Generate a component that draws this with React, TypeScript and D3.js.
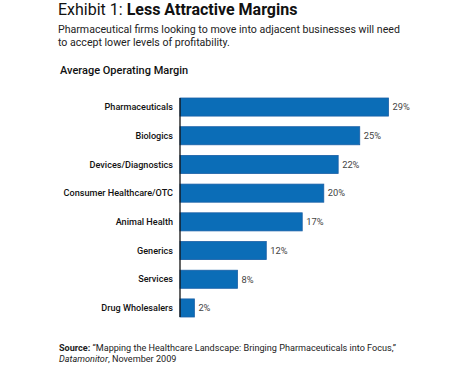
import * as d3 from "d3";
import { useEffect, useRef } from "react";

const categories = [
  "Pharmaceuticals",
  "Biologics",
  "Devices/Diagnostics",
  "Consumer Healthcare/OTC",
  "Animal Health",
  "Generics",
  "Services",
  "Drug Wholesalers",
];
const margins = [29, 25, 22, 20, 17, 12, 8, 2];

const FONT = "Roboto, 'Noto Sans', sans-serif";

export default function App() {
  const ref = useRef<SVGSVGElement>(null);

  useEffect(() => {
    const svg = d3.select(ref.current);
    svg.selectAll("*").remove();

    const x = d3.scaleLinear().domain([0, 29]).range([180, 388.5]);
    const y = d3.scaleBand().domain(categories).range([98, 317]).paddingInner(0.37).paddingOuter(0);

    // title
    const title = svg.append("text")
      .attr("x", 58).attr("y", 14.5)
      .style("font-family", FONT).style("font-size", "16px").style("fill", "#111");
    title.append("tspan").text("Exhibit 1: ");
    title.append("tspan").style("font-weight", "700").text("Less Attractive Margins");

    const sub = ["Pharmaceutical firms looking to move into adjacent businesses will need",
      "to accept lower levels of profitability."];
    svg.selectAll("text.sub")
      .data(sub)
      .join("text")
      .attr("class", "sub")
      .attr("x", 58).attr("y", (d, i) => 32.5 + i * 13)
      .style("font-family", FONT).style("font-size", "10.6px").style("fill", "#222")
      .text((d) => d);

    svg.append("text")
      .attr("x", 60).attr("y", 73.5)
      .style("font-family", FONT).style("font-size", "11px").style("font-weight", "500").style("fill", "#111")
      .text("Average Operating Margin");

    const data = categories.map((c, i) => ({ c, v: margins[i] }));

    svg.append("g")
      .selectAll("rect")
      .data(data)
      .join("rect")
      .attr("x", x(0))
      .attr("y", (d) => y(d.c)!)
      .attr("width", (d) => x(d.v) - x(0))
      .attr("height", y.bandwidth())
      .attr("fill", "#0b6db7")
      .attr("stroke", "#1a5fa6")
      .attr("stroke-width", 0.8);

    svg.append("g")
      .selectAll("text")
      .data(data)
      .join("text")
      .attr("x", 173)
      .attr("y", (d) => y(d.c)! + y.bandwidth() / 2)
      .attr("dy", "0.35em")
      .attr("text-anchor", "end")
      .style("font-family", FONT).style("font-size", "9.1px").style("font-weight", "500").style("fill", "#111")
      .text((d) => d.c);

    svg.append("g")
      .selectAll("text")
      .data(data)
      .join("text")
      .attr("x", (d) => x(d.v) + 4)
      .attr("y", (d) => y(d.c)! + y.bandwidth() / 2)
      .attr("dy", "0.35em")
      .style("font-family", FONT).style("font-size", "9.3px").style("fill", "#444")
      .text((d) => `${d.v}%`);

    svg.append("line")
      .attr("x1", x(0)).attr("x2", x(0))
      .attr("y1", 98).attr("y2", 317)
      .attr("stroke", "#111").attr("stroke-width", 1.3);

    const src1 = svg.append("text")
      .attr("x", 59).attr("y", 351)
      .style("font-family", FONT).style("font-size", "9.1px").style("fill", "#222");
    src1.append("tspan").style("font-weight", "700").text("Source: ");
    src1.append("tspan").text("\u201cMapping the Healthcare Landscape: Bringing Pharmaceuticals into Focus,\u201d");

    const src2 = svg.append("text")
      .attr("x", 59).attr("y", 362)
      .style("font-family", FONT).style("font-size", "9.1px").style("fill", "#222");
    src2.append("tspan").style("font-style", "italic").text("Datamonitor");
    src2.append("tspan").text(", November 2009");
  }, []);

  return (
    <svg
      ref={ref}
      width={468}
      height={365}
      style={{ position: "absolute", left: 0, top: 0, background: "#fff" }}
    />
  );
}
